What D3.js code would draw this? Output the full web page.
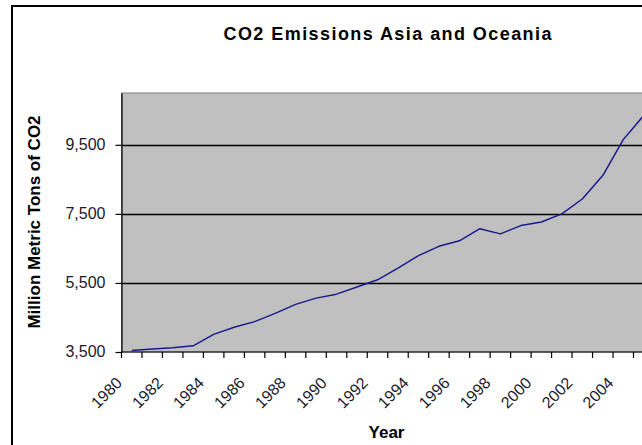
<!DOCTYPE html>
<html>
<head>
<meta charset="utf-8">
<script src="https://cdn.jsdelivr.net/npm/d3@7"></script>
<style>
  html, body { margin: 0; padding: 0; background: #ffffff; overflow: hidden; }
  svg { display: block; font-family: "Liberation Sans", Arial, sans-serif; }
</style>
</head>
<body>
<svg id="chart" width="642" height="445"></svg>
<script>
// Asia & Oceania CO2 emissions, million metric tons, 1980-2005
const years = [1980, 1981, 1982, 1983, 1984, 1985, 1986, 1987, 1988, 1989,
               1990, 1991, 1992, 1993, 1994, 1995, 1996, 1997, 1998, 1999,
               2000, 2001, 2002, 2003, 2004, 2005];
const emissions = [3540, 3590, 3625, 3680, 4010, 4215, 4380, 4620, 4880, 5060,
                   5175, 5380, 5590, 5930, 6290, 6560, 6720, 7070, 6920, 7160,
                   7265, 7500, 7930, 8610, 9650, 10350];
const yTicks = [3500, 5500, 7500, 9500];
const yDomain = [3500, 11000];
const xLabelYears = [1980, 1982, 1984, 1986, 1988, 1990, 1992, 1994, 1996, 1998, 2000, 2002, 2004];

const titleText = "CO2 Emissions Asia and Oceania";
const yTitleText = "Million Metric Tons of CO2";
const xTitleText = "Year";

const svg = d3.select("#chart");

// outer chart frame
svg.append("rect")
  .attr("x", 12).attr("y", 6)
  .attr("width", 700).attr("height", 500)
  .attr("fill", "#ffffff")
  .attr("stroke", "#000").attr("stroke-width", 2);

const plot = { left: 121.5, top: 93, bottom: 352, step: 20.48 };
plot.right = plot.left + years.length * plot.step;

const x = d3.scaleBand()
  .domain(years)
  .range([plot.left, plot.right])
  .paddingInner(0).paddingOuter(0);

const y = d3.scaleLinear().domain(yDomain).range([plot.bottom, plot.top]);

// plot background
svg.append("rect")
  .attr("x", plot.left).attr("y", plot.top)
  .attr("width", plot.right - plot.left).attr("height", plot.bottom - plot.top)
  .attr("fill", "#c0c0c0")
  .attr("stroke", "#808080").attr("stroke-width", 1);

// horizontal gridlines
svg.append("g")
  .selectAll("line")
  .data(yTicks.filter(d => d > yDomain[0]))
  .join("line")
  .attr("x1", plot.left).attr("x2", plot.right)
  .attr("y1", d => Math.round(y(d)) + 0.5).attr("y2", d => Math.round(y(d)) + 0.5)
  .attr("stroke", "#000").attr("stroke-width", 1.3);

// y axis
const yAxis = d3.axisLeft(y)
  .tickValues(yTicks)
  .tickSizeInner(6)
  .tickSizeOuter(0)
  .tickPadding(10)
  .tickFormat(d3.format(","));
const gy = svg.append("g")
  .attr("transform", `translate(${plot.left},0)`)
  .call(yAxis);
gy.select(".domain").attr("stroke", "#000").attr("stroke-width", 1.2);
gy.selectAll(".tick line").attr("stroke", "#000").attr("stroke-width", 1.2);
gy.selectAll(".tick text")
  .attr("font-size", 16)
  .attr("fill", "#1a1a2a")
  .attr("font-family", "Liberation Sans, Arial, sans-serif")
  .attr("dy", "0.27em");

// x axis: ticks on category boundaries
const boundaries = years.map(d => x(d)).concat([plot.right]);
const gx = svg.append("g");
gx.append("line")
  .attr("x1", plot.left).attr("x2", plot.right)
  .attr("y1", plot.bottom).attr("y2", plot.bottom)
  .attr("stroke", "#000").attr("stroke-width", 1.2);
gx.selectAll("line.tk")
  .data(boundaries)
  .join("line")
  .attr("class", "tk")
  .attr("x1", d => d).attr("x2", d => d)
  .attr("y1", plot.bottom).attr("y2", plot.bottom + 6)
  .attr("stroke", "#000").attr("stroke-width", 1.2);
gx.selectAll("text")
  .data(xLabelYears)
  .join("text")
  .attr("transform", d => `translate(${x(d) + 1.5},384) rotate(-45)`)
  .attr("text-anchor", "end")
  .attr("font-size", 16)
  .attr("fill", "#1a1a2a")
  .text(d => d);

// emissions line
const line = d3.line()
  .x((d, i) => x(years[i]) + x.bandwidth() / 2)
  .y(d => y(d));
svg.append("path")
  .datum(emissions)
  .attr("d", line)
  .attr("fill", "none")
  .attr("stroke", "#1a1a8c")
  .attr("stroke-width", 1.5)
  .attr("stroke-linejoin", "round");

// titles
svg.append("text")
  .attr("x", 387.5).attr("y", 39.5)
  .attr("text-anchor", "middle")
  .attr("font-size", 18).attr("font-weight", "bold")
  .attr("textLength", 328).attr("lengthAdjust", "spacing")
  .attr("fill", "#000")
  .text(titleText);

svg.append("text")
  .attr("transform", "translate(40,222) rotate(-90)")
  .attr("text-anchor", "middle")
  .attr("font-size", 17).attr("font-weight", "bold")
  .attr("fill", "#000")
  .text(yTitleText);

svg.append("text")
  .attr("x", 386.5).attr("y", 438.3)
  .attr("text-anchor", "middle")
  .attr("font-size", 17).attr("font-weight", "bold")
  .attr("fill", "#000")
  .text(xTitleText);
</script>
</body>
</html>
